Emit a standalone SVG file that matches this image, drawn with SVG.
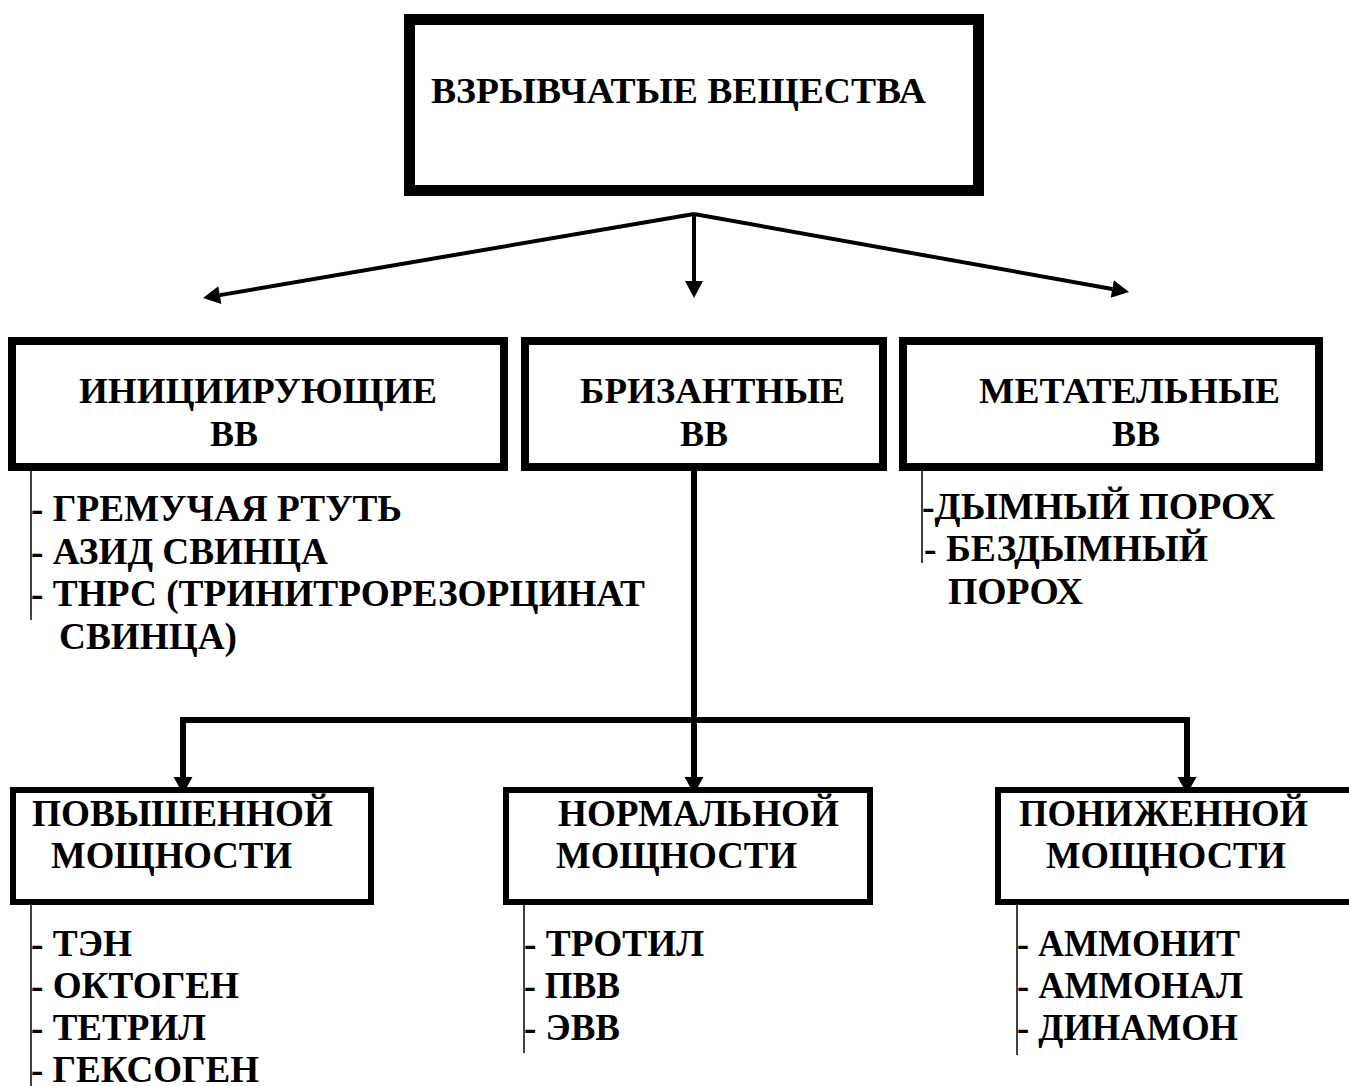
<svg xmlns="http://www.w3.org/2000/svg" width="1349" height="1086" viewBox="0 0 1349 1086">
<style>
text{font-family:"Liberation Serif","Times New Roman",serif;font-weight:bold;fill:#000}
.h{font-size:36px}
.l{font-size:37px}
.box{fill:#fff;stroke:#000}
.thin{stroke:#000;stroke-width:1.5;fill:none}
.c1{stroke:#000;stroke-width:4;fill:none}
.c2{stroke:#000;stroke-width:6;fill:none;stroke-linejoin:miter}
</style>
<defs>
<marker id="a1" markerUnits="userSpaceOnUse" markerWidth="17" markerHeight="18" refX="0" refY="9" orient="auto" overflow="visible"><path d="M0,0 L17,9 L0,18 z" fill="#000"/></marker>
<marker id="a2" markerUnits="userSpaceOnUse" markerWidth="17" markerHeight="19" refX="0" refY="9.5" orient="auto" overflow="visible"><path d="M0,0 L17,9.5 L0,19 z" fill="#000"/></marker>
</defs>
<g id="connectors">
<line class="c1" x1="694" y1="214" x2="219.8" y2="295.1" marker-end="url(#a1)"/>
<line class="c1" x1="694" y1="214" x2="694" y2="281" marker-end="url(#a1)"/>
<line class="c1" x1="694" y1="214" x2="1112.3" y2="289" marker-end="url(#a1)"/>
<path class="c2" d="M694,471 V777" marker-end="url(#a2)"/>
<path class="c2" d="M183,777 V720 H1187 V777" marker-end="url(#a2)"/>
<path class="c2" d="M183,726 V777" marker-end="url(#a2)"/>
</g>
<g id="node-root">
<rect class="box" x="409.5" y="19.5" width="569" height="171" stroke-width="11"/>
<text class="h" x="431" y="103" textLength="495" lengthAdjust="spacingAndGlyphs">ВЗРЫВЧАТЫЕ ВЕЩЕСТВА</text>
</g>
<g id="node-init">
<rect class="box" x="12" y="341" width="492" height="126" stroke-width="8"/>
<text class="h" x="79" y="403" textLength="358" lengthAdjust="spacingAndGlyphs">ИНИЦИИРУЮЩИЕ</text>
<text class="h" x="210" y="446" textLength="48" lengthAdjust="spacingAndGlyphs">ВВ</text>
</g>
<g id="list-init">
<line class="thin" x1="31" y1="471" x2="31" y2="620"/>
<text class="l" x="31" y="521" textLength="371" lengthAdjust="spacingAndGlyphs">- ГРЕМУЧАЯ РТУТЬ</text>
<text class="l" x="31" y="564" textLength="297" lengthAdjust="spacingAndGlyphs">- АЗИД СВИНЦА</text>
<text class="l" x="31" y="606" textLength="614" lengthAdjust="spacingAndGlyphs">- ТНРС (ТРИНИТРОРЕЗОРЦИНАТ</text>
<text class="l" x="59" y="649" textLength="178" lengthAdjust="spacingAndGlyphs">СВИНЦА)</text>
</g>
<g id="node-briz">
<rect class="box" x="525" y="341" width="358" height="126" stroke-width="8"/>
<text class="h" x="580" y="403" textLength="265" lengthAdjust="spacingAndGlyphs">БРИЗАНТНЫЕ</text>
<text class="h" x="680" y="446" textLength="48" lengthAdjust="spacingAndGlyphs">ВВ</text>
</g>
<g id="node-metat">
<rect class="box" x="903" y="341" width="416" height="126" stroke-width="8"/>
<text class="h" x="979" y="403" textLength="301" lengthAdjust="spacingAndGlyphs">МЕТАТЕЛЬНЫЕ</text>
<text class="h" x="1112" y="446" textLength="48" lengthAdjust="spacingAndGlyphs">ВВ</text>
</g>
<g id="list-metat">
<line class="thin" x1="922" y1="471" x2="922" y2="563"/>
<text class="l" x="922" y="519" textLength="353" lengthAdjust="spacingAndGlyphs">-ДЫМНЫЙ ПОРОХ</text>
<text class="l" x="924" y="561" textLength="284" lengthAdjust="spacingAndGlyphs">- БЕЗДЫМНЫЙ</text>
<text class="l" x="948" y="604" textLength="135" lengthAdjust="spacingAndGlyphs">ПОРОХ</text>
</g>
<g id="node-high">
<rect class="box" x="13" y="790" width="358" height="112" stroke-width="6"/>
<text class="l" x="32" y="826" textLength="301" lengthAdjust="spacingAndGlyphs">ПОВЫШЕННОЙ</text>
<text class="l" x="51" y="868" textLength="241" lengthAdjust="spacingAndGlyphs">МОЩНОСТИ</text>
</g>
<g id="list-high">
<line class="thin" x1="31" y1="905" x2="31" y2="1086"/>
<text class="l" x="31" y="956" textLength="101" lengthAdjust="spacingAndGlyphs">- ТЭН</text>
<text class="l" x="31" y="998" textLength="208" lengthAdjust="spacingAndGlyphs">- ОКТОГЕН</text>
<text class="l" x="31" y="1040" textLength="175" lengthAdjust="spacingAndGlyphs">- ТЕТРИЛ</text>
<text class="l" x="31" y="1082" textLength="228" lengthAdjust="spacingAndGlyphs">- ГЕКСОГЕН</text>
</g>
<g id="node-norm">
<rect class="box" x="506" y="790" width="364" height="112" stroke-width="6"/>
<text class="l" x="558" y="826" textLength="281" lengthAdjust="spacingAndGlyphs">НОРМАЛЬНОЙ</text>
<text class="l" x="556" y="868" textLength="241" lengthAdjust="spacingAndGlyphs">МОЩНОСТИ</text>
</g>
<g id="list-norm">
<line class="thin" x1="524" y1="905" x2="524" y2="1053"/>
<text class="l" x="524" y="956" textLength="180" lengthAdjust="spacingAndGlyphs">- ТРОТИЛ</text>
<text class="l" x="524" y="998" textLength="96" lengthAdjust="spacingAndGlyphs">- ПВВ</text>
<text class="l" x="524" y="1040" textLength="96" lengthAdjust="spacingAndGlyphs">- ЭВВ</text>
</g>
<g id="node-low">
<rect class="box" x="998" y="790" width="360" height="112" stroke-width="6"/>
<text class="l" x="1019" y="826" textLength="289" lengthAdjust="spacingAndGlyphs">ПОНИЖЕННОЙ</text>
<text class="l" x="1046" y="868" textLength="240" lengthAdjust="spacingAndGlyphs">МОЩНОСТИ</text>
</g>
<g id="list-low">
<line class="thin" x1="1017" y1="905" x2="1017" y2="1055"/>
<text class="l" x="1017" y="956" textLength="223" lengthAdjust="spacingAndGlyphs">- АММОНИТ</text>
<text class="l" x="1017" y="998" textLength="226" lengthAdjust="spacingAndGlyphs">- АММОНАЛ</text>
<text class="l" x="1017" y="1040" textLength="221" lengthAdjust="spacingAndGlyphs">- ДИНАМОН</text>
</g>
</svg>
